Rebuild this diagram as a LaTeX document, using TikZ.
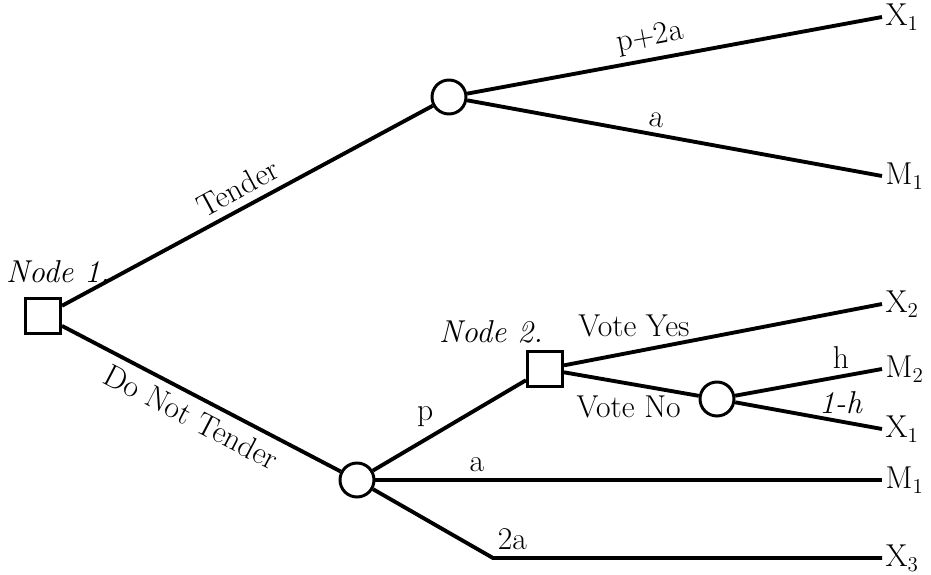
\documentclass[tikz,border=0pt]{standalone}
\usetikzlibrary{positioning}
\begin{document}
\begin{tikzpicture}[x = 0.02cm, y = -0.02cm, line width = 2.2pt,
		font = \fontsize{18}{21}\selectfont,
		decision/.style = {draw, rectangle, minimum size = 0.70cm, inner sep = 0pt, line width = 1.7pt},
		hasard/.style = {draw, circle, minimum size = 0.68cm, inner sep = 0pt, line width = 1.7pt},
		issue/.style = {anchor = west, inner sep = 1pt}]
				% Cadre
				\useasboundingbox 		(0, 0) 		rectangle 	(931, 575)	;
				% Noeuds
				\node [decision]	(n1)	at (43, 316)	{}	;
				\node [decision]	(n2)	at (545, 369)	{}	;
				\node [hasard]		(c1)	at (449, 97)	{}	;
				\node [hasard]		(c3)	at (357, 480)	{}	;
				\node [hasard]		(c4)	at (717, 399)	{}	;
				\node [anchor = base]	(t1)	at (58, 282)	{\textit{Node 1.}}	;
				\node [anchor = base]	(t2)	at (491, 342)	{\textit{Node 2.}}	;
				% Issues
				\coordinate		(e1)	at (882, 17)	;
				\coordinate		(e2)	at (882, 176)	;
				\coordinate		(e3)	at (882, 304)	;
				\coordinate		(e4)	at (882, 369)	;
				\coordinate		(e5)	at (882, 429)	;
				\coordinate		(e6)	at (882, 480)	;
				\coordinate		(e7)	at (882, 558)	;
				\coordinate		(k3)	at (493, 558)	;
				\node [issue]	(x1)	at (e1)	{X$_1$}	;
				\node [issue]	(m1)	at (e2)	{M$_1$}	;
				\node [issue]	(x2)	at (e3)	{X$_2$}	;
				\node [issue]	(m2)	at (e4)	{M$_2$}	;
				\node [issue]	(x1b)	at (e5)	{X$_1$}	;
				\node [issue]	(m1b)	at (e6)	{M$_1$}	;
				\node [issue]	(x3)	at (e7)	{X$_3$}	;
				% Branches
				\draw (n1) -- (c1) node [midway, above = 1pt, sloped]	(lt)	{Tender};
				\draw (n1) -- (c3) node [midway, below = 1pt, sloped]	(ln)	{Do Not Tender};
				\draw (c1) -- (e1) node [pos = 0.45, above, sloped]	(lp2a)	{p$+$2a};
				\draw (c1) -- (e2) node [pos = 0.45, above, sloped]	(la1)	{a};
				\draw (c3) -- (n2) node [pos = 0.4, above left = 0pt and -4pt]	(lp)	{p};
				\draw (c3) -- (e6) node [pos = 0.2, above]	(la2)	{a};
				\draw (c3) -- (k3) -- (e7) node [pos = 0.05, above]	(l2a)	{2a};
				\draw (n2) -- (e3) node [pos = 0.22, above = 4pt]	(ly)	{Vote Yes};
				\draw (n2) -- (c4) node [pos = 0.48, below = 2.5pt]	(lno)	{Vote No};
				\draw (c4) -- (e4) node [pos = 0.72, above]	(lh)	{h};
				\draw (c4) -- (e5) node [pos = 0.72, above]	(l1h)	{\textit{1-h}};
\end{tikzpicture}
\end{document}
